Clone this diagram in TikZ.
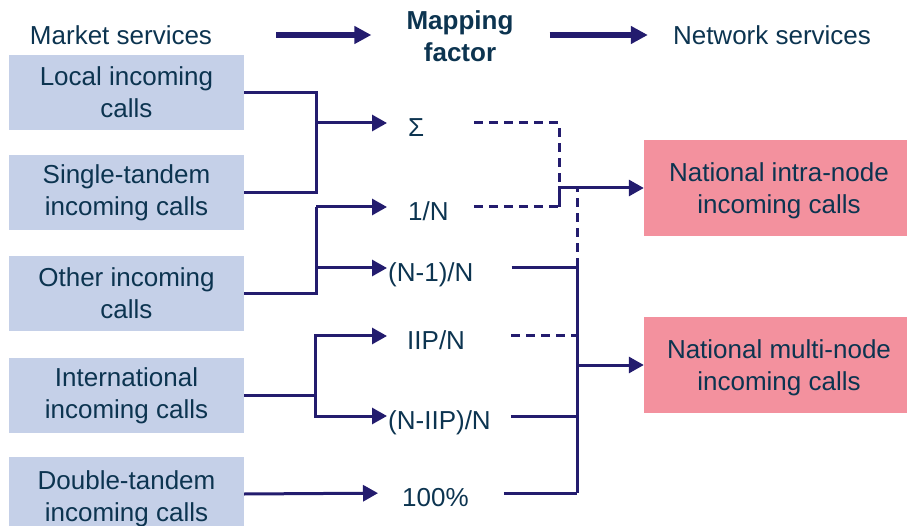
\documentclass[tikz,border=0pt]{standalone}
\usepackage{fontspec}
\setmainfont{Liberation Sans}
\usetikzlibrary{arrows.meta,calc}
\definecolor{lncol}{RGB}{35,28,110}
\definecolor{txtcol}{RGB}{12,52,80}
\definecolor{bluebox}{RGB}{197,208,232}
\definecolor{pinkbox}{RGB}{243,145,158}
\newcommand{\toprule}{\rule{0pt}{25pt}}
\begin{document}
\begin{tikzpicture}[x=1pt,y=-1pt,
  mktbox/.style={fill=bluebox, minimum width=235pt, minimum height=75pt, inner sep=0pt, align=center, text=txtcol, font=\fontsize{26}{32}\selectfont},
  netbox/.style={fill=pinkbox, minimum width=270pt, minimum height=96pt, inner sep=0pt, align=center, text=txtcol, font=\fontsize{26}{32}\selectfont},
  lbl/.style={inner sep=0pt, text height=26.6pt, text depth=0pt, anchor=west, text=txtcol, font=\fontsize{26}{32}\selectfont},
  hdr/.style={inner sep=0pt, align=center, text=txtcol, font=\fontsize{26}{32}\selectfont},
  ln/.style={draw=lncol, line width=3pt},
  arr/.style={ln, -{Triangle[length=15pt,width=16pt]}},
  dsh/.style={ln, dash pattern=on 9pt off 6pt},
  bigarr/.style={draw=lncol, line width=5.5pt, -{Triangle[length=17pt,width=17pt]}}
]
\useasboundingbox (0,0) rectangle (907,526);

% header
\node[hdr] (ms) at (121,35) {Market services};
\node[hdr, font=\fontsize{26}{32}\selectfont\bfseries] (mf) at (460,36.5) {Mapping\\factor};
\node[hdr] (ns) at (772,35) {Network services};
\draw[bigarr, shorten <=64pt, shorten >=35pt] (ms.east) -- (ms.east -| mf.west);
\draw[bigarr, shorten <=36pt, shorten >=25pt] (ms.east -| mf.east) -- (ns.west);

% market boxes
\node[mktbox] (b1) at (126.5,92.5) {Local incoming\\calls};
\node[mktbox] (b2) at (126.5,192.5) {Single-tandem\\incoming calls};
\node[mktbox] (b3) at (126.5,293.5) {Other incoming\\calls};
\node[mktbox] (b4) at (126.5,395.5) {International\\incoming calls};
\node[mktbox, minimum height=84pt] (b5) at (126.5,499) {Double-tandem\\incoming calls};

% network boxes
\node[netbox] (intra) at (779,188) {\toprule National intra-node\\incoming calls};
\node[netbox] (multi) at (779,365) {\toprule National multi-node\\incoming calls};

% mapping factors
\node[lbl] (sig) at (408,123) {Σ};
\node[lbl] (oneN) at (408,207) {1/N};
\node[lbl] (nm1) at (388,268) {(N-1)/N};
\node[lbl] (iip) at (407,336) {IIP/N};
\node[lbl] (niip) at (388,416) {(N-IIP)/N};
\node[lbl] (hund) at (402,493) {100\%};

% left connectors
\coordinate (j1) at (316,123);
\coordinate (j2) at (316,207);
\coordinate (j3) at (315,336);
\draw[ln] (b1.east) -| (j1) |- (b2.east);
\draw[arr, shorten >=21pt] (j1) -- (sig.west);
\draw[ln] (j2) |- (b3.east);
\draw[arr, shorten >=21pt] (j2) -- (oneN.west);
\draw[arr, shorten >=1pt] (j2 |- nm1.west) -- (nm1.west);
\draw[ln] (b4.east) -- (j3 |- b4.east);
\draw[arr, shorten >=20pt] (j3 |- b4.east) |- (iip.west);
\draw[arr, shorten >=1pt] (j3 |- b4.east) |- (niip.west);
\draw[arr, shorten >=24pt] (b5.east) ++(0,-5) -- (hund.west);

% right connectors
\coordinate (ja) at (559,188);
\coordinate (jb) at (577,188);
\coordinate (jm) at (577,493);
\draw[dsh, shorten <=50pt] (sig.east) -| (ja);
\draw[dsh, shorten <=25pt] (oneN.east) -- (oneN.east -| ja);
\draw[arr] (oneN.east -| ja) |- (intra.west);
\draw[dsh, shorten <=46pt] (iip.east) -| (jb);
\draw[ln, shorten <=38pt] (nm1.east) -| (jm);
\draw[ln, shorten <=20pt] (niip.east) -- (niip.east -| jm);
\draw[ln, shorten <=35pt] (hund.east) -- (jm);
\draw[arr] (niip.east -| jm) |- (multi.west);
\end{tikzpicture}
\end{document}
